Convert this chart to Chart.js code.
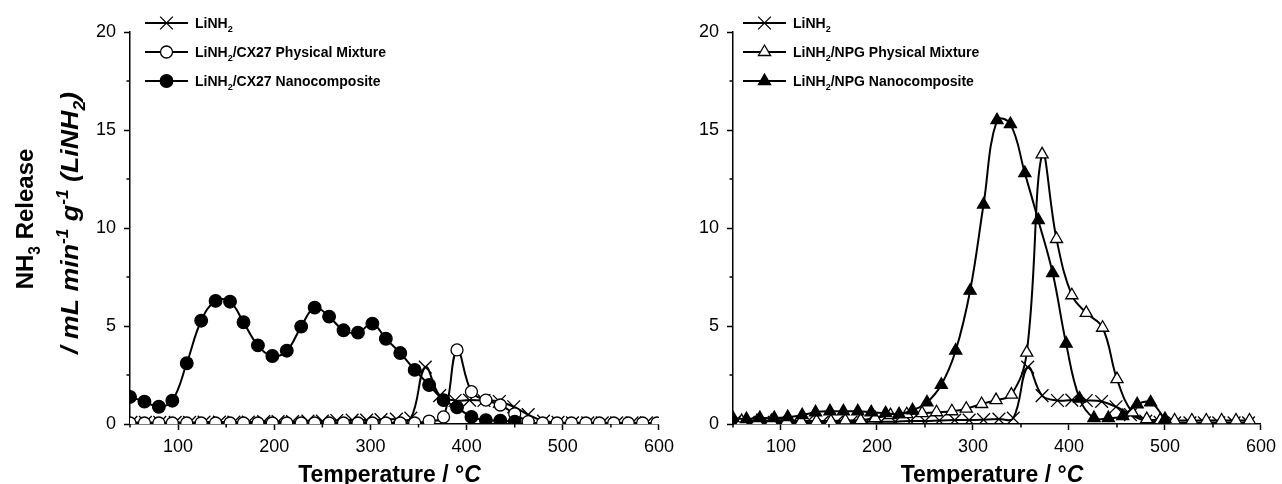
<!DOCTYPE html>
<html>
<head>
<meta charset="utf-8">
<script src="https://cdn.jsdelivr.net/npm/chart.js@4.4.1/dist/chart.umd.min.js"></script>
<style>
  html, body { margin: 0; padding: 0; background: #fff; }
  #wrap { display: flex; width: 1282px; height: 484px; }
  canvas { display: block; }
</style>
</head>
<body>
<div id="wrap">
  <canvas id="cx27" width="680" height="484"></canvas>
  <canvas id="npg" width="602" height="484"></canvas>
</div>
<script>
const FONT = "'Liberation Sans', Arial, Helvetica, sans-serif";

// axis ticks
const xMajorTicks = [100, 200, 300, 400, 500, 600];
const xMinorTicks = [50, 150, 250, 350, 450, 550];
const yMajorTicks = [0, 5, 10, 15, 20];
const yMinorTicks = [2.5, 7.5, 12.5, 17.5];

// LiNH2 on its own (same run shown in both panels)
const linh2Temps = [51, 66, 81, 97, 112, 127, 143, 158, 173, 189, 204, 219, 235, 250, 265, 281, 296, 311,
  327, 342, 357, 372, 388, 403, 418, 434, 449, 464, 480, 495, 510, 526, 541, 556, 572, 587];
const linh2Rate = [0.08, 0.08, 0.08, 0.08, 0.08, 0.1, 0.1, 0.1, 0.1, 0.12, 0.12, 0.12, 0.15, 0.15, 0.18, 0.2, 0.2, 0.22,
  0.25, 0.3, 2.9, 1.45, 1.2, 1.22, 1.2, 1.15, 0.88, 0.48, 0.15, 0.08, 0.06, 0.06, 0.06, 0.06, 0.06, 0.06];

// left panel: CX27
const cx27Temps = [50, 65, 80, 94, 109, 124, 139, 154, 168, 183, 198, 213, 228, 242, 257, 272, 287, 302, 316,
  331, 346, 361, 376, 390, 405, 420, 435, 450, 464, 479, 494, 509, 524, 538, 553, 568, 583, 598];
const cx27PhysRate = [0.05, 0.05, 0.05, 0.05, 0.05, 0.05, 0.05, 0.05, 0.05, 0.05, 0.05, 0.05, 0.05, 0.05, 0.05,
  0.05, 0.05, 0.05, 0.05, 0.05, 0.05, 0.15, 0.36, 3.78, 1.65, 1.22, 0.97, 0.52, 0.12, 0.05, 0.05, 0.05, 0.05,
  0.05, 0.05, 0.05, 0.05, 0.05];
const cx27NanoRate = [1.38, 1.14, 0.88, 1.19, 3.1, 5.27, 6.28, 6.24, 5.19, 4.01, 3.47, 3.74, 4.97, 5.94, 5.48,
  4.78, 4.66, 5.12, 4.35, 3.62, 2.76, 1.99, 1.22, 0.85, 0.36, 0.2, 0.17, 0.12];

// right panel: NPG
const npgPhysTemps = [59, 75, 90, 106, 121, 137, 152, 167, 183, 198, 214, 231, 247, 262, 278, 293, 309, 324,
  340, 356, 372, 387, 403, 418, 435, 450, 466, 481, 495, 510, 528, 543, 559, 574, 588];
const npgPhysRate = [0.15, 0.15, 0.15, 0.15, 0.15, 0.15, 0.15, 0.18, 0.2, 0.3, 0.45, 0.5, 0.55, 0.6, 0.65, 0.78,
  1.02, 1.22, 1.5, 3.64, 13.76, 9.44, 6.57, 5.67, 4.91, 2.29, 0.59, 0.25, 0.2, 0.18, 0.18, 0.18, 0.18, 0.18, 0.18];
const npgNanoTemps = [50, 64, 78, 93, 107, 122, 136, 151, 165, 180, 194, 209, 223, 237, 252, 267, 282, 297,
  311, 325, 339, 354, 368, 383, 397, 411, 426, 441, 456, 471, 485, 500];
const npgNanoRate = [0.3, 0.25, 0.3, 0.3, 0.35, 0.45, 0.6, 0.65, 0.65, 0.65, 0.6, 0.55, 0.5, 0.7, 1.1, 2.0,
  3.75, 6.8, 11.2, 15.5, 15.3, 12.8, 10.4, 7.7, 4.1, 1.3, 0.3, 0.3, 0.4, 1.0, 1.1, 0.25];

// labels (_{..} subscript, ^{..} superscript, *{..} italic)
const cx27Labels = ["LiNH_{2}", "LiNH_{2}/CX27 Physical Mixture", "LiNH_{2}/CX27 Nanocomposite"];
const npgLabels = ["LiNH_{2}", "LiNH_{2}/NPG Physical Mixture", "LiNH_{2}/NPG Nanocomposite"];
const xTitle = "Temperature / °*{C}";
const yTitle = ["NH_{3} Release", "/ mL min^{-1} g^{-1} (LiNH_{2})"];

function richParts(text, size) {
  const parts = [];
  text.split(/([_^*]\{[^}]*\})/).forEach(p => {
    if (!p) return;
    const body = p.slice(2, -1);
    if (p.startsWith('_{')) parts.push({ t: body, dy: size * 0.3, s: size * 0.65, it: false });
    else if (p.startsWith('^{')) parts.push({ t: body, dy: -size * 0.42, s: size * 0.65, it: false });
    else if (p.startsWith('*{')) parts.push({ t: body, dy: 0, s: size, it: true });
    else parts.push({ t: p, dy: 0, s: size, it: false });
  });
  return parts;
}

function setFont(ctx, p, style) {
  const st = p.it && style.indexOf('italic') < 0 ? 'italic ' + style : style;
  ctx.font = st + ' ' + p.s + 'px ' + FONT;
}

function measureRich(ctx, text, size, style) {
  let w = 0;
  richParts(text, size).forEach(p => { setFont(ctx, p, style); w += ctx.measureText(p.t).width; });
  return w;
}

function drawRich(ctx, text, x, y, size, style, align) {
  const parts = richParts(text, size);
  let w = 0;
  parts.forEach(p => { setFont(ctx, p, style); p.w = ctx.measureText(p.t).width; w += p.w; });
  let cx = align === 'center' ? x - w / 2 : x;
  ctx.textAlign = 'left';
  ctx.textBaseline = 'alphabetic';
  parts.forEach(p => { setFont(ctx, p, style); ctx.fillText(p.t, cx, y + p.dy); cx += p.w; });
}

const plain = s => s.replace(/[_^*]\{([^}]*)\}/g, '$1');

// minor ticks, legend and axis titles
const decor = {
  id: 'decor',
  afterDraw(chart, args, o) {
    const ctx = chart.ctx;
    const area = chart.chartArea;
    const xs = chart.scales.x, ys = chart.scales.y;
    ctx.save();
    ctx.strokeStyle = '#000';
    ctx.lineWidth = 1.5;
    ctx.beginPath();
    xMinorTicks.forEach(v => {
      const px = xs.getPixelForValue(v);
      ctx.moveTo(px, area.bottom); ctx.lineTo(px, area.bottom + 3.5);
    });
    yMinorTicks.forEach(v => {
      const py = ys.getPixelForValue(v);
      ctx.moveTo(area.left, py); ctx.lineTo(area.left - 3.5, py);
    });
    ctx.stroke();

    // legend
    o.labels.forEach((label, i) => {
      const ds = chart.data.datasets[i];
      const y = o.legendY + i * 29;
      const x0 = o.legendX;
      ctx.strokeStyle = '#000';
      ctx.lineWidth = 2.2;
      ctx.beginPath(); ctx.moveTo(x0, y); ctx.lineTo(x0 + 43, y); ctx.stroke();
      ctx.fillStyle = ds.pointBackgroundColor;
      ctx.lineWidth = ds.pointBorderWidth;
      Chart.helpers.drawPoint(ctx, { pointStyle: ds.pointStyle, radius: ds.pointRadius,
        borderWidth: ds.pointBorderWidth, rotation: 0 }, x0 + 21.5, y);
      ctx.fillStyle = '#000';
      drawRich(ctx, label, x0 + 50, y + 5, 14, 'bold', 'left');
    });

    ctx.fillStyle = '#000';
    drawRich(ctx, xTitle, (area.left + area.right) / 2 - 5, 482, 23, 'bold', 'center');

    if (o.yTitle) {
      ctx.save();
      ctx.translate(33, 219);
      ctx.rotate(-Math.PI / 2);
      drawRich(ctx, yTitle[0], 0, 0, 24, 'bold', 'center');
      ctx.restore();
      ctx.save();
      ctx.translate(78, 223);
      ctx.rotate(-Math.PI / 2);
      const w = measureRich(ctx, yTitle[1], 24, 'italic bold');
      ctx.scale(262 / w, 1);
      drawRich(ctx, yTitle[1], 0, 0, 24, 'italic bold', 'center');
      ctx.restore();
    }
    ctx.restore();
  }
};

function series(label, temps, rates, style, fill, radius, order) {
  return {
    label: plain(label),
    data: rates.map((r, i) => ({ x: temps[i], y: r })),
    borderColor: '#000',
    borderWidth: 2,
    pointStyle: style,
    pointRadius: radius,
    pointBorderWidth: 1.3,
    pointBackgroundColor: fill,
    pointBorderColor: '#000',
    tension: 0.4,
    order: order
  };
}

function makeChart(id, labels, datasets, pad, legendX, withYTitle) {
  return new Chart(document.getElementById(id), {
    type: 'line',
    data: { datasets: datasets },
    options: {
      responsive: false,
      animation: false,
      events: [],
      layout: { padding: pad },
      plugins: {
        legend: { display: false },
        tooltip: { enabled: false },
        decor: { labels: labels, legendX: legendX, legendY: 23, yTitle: withYTitle }
      },
      scales: {
        x: {
          type: 'linear',
          min: 50,
          max: 600,
          afterBuildTicks: axis => { axis.ticks = xMajorTicks.map(v => ({ value: v })); },
          afterFit: scale => { scale.height = 60; },
          border: { color: '#000', width: 1.5 },
          grid: { drawOnChartArea: false, tickLength: 6, tickWidth: 1.5, tickColor: '#000' },
          ticks: { color: '#000', padding: 6, maxRotation: 0, font: { family: FONT, size: 18 } }
        },
        y: {
          type: 'linear',
          min: 0,
          max: 20,
          afterBuildTicks: axis => { axis.ticks = yMajorTicks.map(v => ({ value: v })); },
          afterFit: scale => { scale.width = 40; },
          border: { color: '#000', width: 1.5 },
          grid: { drawOnChartArea: false, tickLength: 6, tickWidth: 1.5, tickColor: '#000' },
          ticks: { color: '#000', padding: 8, font: { family: FONT, size: 18 } }
        }
      }
    },
    plugins: [decor]
  });
}

makeChart('cx27', cx27Labels, [
  series(cx27Labels[0], linh2Temps, linh2Rate, 'crossRot', '#000', 9, 2),
  series(cx27Labels[1], cx27Temps, cx27PhysRate, 'circle', '#fff', 6, 1),
  series(cx27Labels[2], cx27Temps, cx27NanoRate, 'circle', '#000', 6.3, 0)
], { left: 90, right: 18, top: 32, bottom: 0 }, 145, true);

makeChart('npg', npgLabels, [
  series(npgLabels[0], linh2Temps, linh2Rate, 'crossRot', '#000', 9, 2),
  series(npgLabels[1], npgPhysTemps, npgPhysRate, 'triangle', '#fff', 7, 1),
  series(npgLabels[2], npgNanoTemps, npgNanoRate, 'triangle', '#000', 7, 0)
], { left: 13, right: 17, top: 32, bottom: 0 }, 63, false);
</script>
</body>
</html>
